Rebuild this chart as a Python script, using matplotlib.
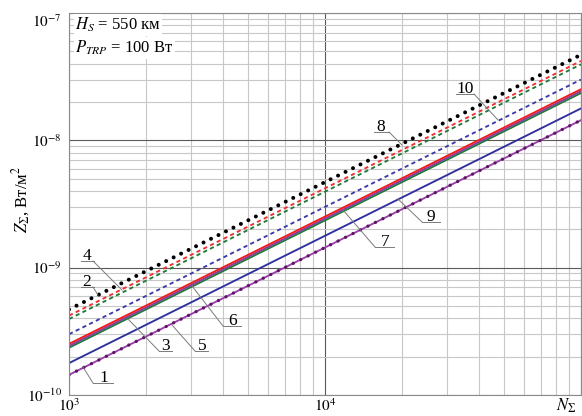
import matplotlib
matplotlib.use('Agg')
import matplotlib.pyplot as plt

plt.rcParams['font.family'] = ['Liberation Serif', 'DejaVu Serif']
plt.rcParams['mathtext.fontset'] = 'stix'
plt.rcParams['lines.scale_dashes'] = False

# values at N = 1e3 and N = 1e5
n_sum = [1e3, 1e5]
z_black_dot = [4.7e-10, 4.7e-8]
z_red_dash = [4.2e-10, 4.2e-8]
z_green_dash = [3.95e-10, 3.95e-8]
z_blue_dash = [3.0e-10, 3.0e-8]
z_red = [2.52e-10, 2.52e-8]
z_purple = [2.43e-10, 2.43e-8]
z_green = [2.35e-10, 2.35e-8]
z_blue = [1.78e-10, 1.78e-8]
z_purple_mk = [1.44e-10, 1.44e-8]

curve_labels = ['4', '2', '3', '5', '1', '6', '7', '9', '8', '10']

fig = plt.figure(figsize=(5.82, 4.16), dpi=100)
ax = fig.add_axes([69/582, 21/416, 512/582, 382/416])
ax.set_xscale('log')
ax.set_yscale('log')
ax.set_xlim(1e3, 1e5)
ax.set_ylim(1e-10, 1e-7)

ax.grid(which='major', color='#5a5a5a', lw=0.8)
ax.grid(which='minor', color='#c8c8c8', lw=0.8)
ax.set_axisbelow(True)
for s in ax.spines.values():
    s.set_color('#8a8a8a')
    s.set_linewidth(0.8)

ax.tick_params(which='both', length=0, labelsize=11)
ax.tick_params(axis='y', pad=5)
ax.tick_params(axis='x', pad=1.5)
ax.set_xticks([1e3, 1e4, 1e5], [r'$10^3$', r'$10^4$', ''])
ax.set_yticks([1e-10, 1e-9, 1e-8, 1e-7],
              [r'$10^{-10}$', r'$10^{-9}$', r'$10^{-8}$', r'$10^{-7}$'])
ax.get_yticklabels()[-1].set_va('top')

# solid lines
ax.plot(n_sum, z_blue, color='#2f2f9e', lw=1.35)
ax.plot(n_sum, z_green, color='#1f7a3c', lw=1.35)
ax.plot(n_sum, z_purple, color='#8a3a9a', lw=1.35)
ax.plot(n_sum, z_red, color='#f01c1c', lw=1.35)
ax.plot(n_sum, z_purple_mk, color='#9a3fae', lw=1.35)
ax.plot(n_sum, z_purple_mk, color='#5e1560', lw=2.4,
        linestyle=(0, (0.01, 6.0)), dash_capstyle='round')

# dashed lines
dash = (0, (3.0, 2.4))
ax.plot(n_sum, z_blue_dash, color='#3a3aa8', lw=1.35, linestyle=dash)
ax.plot(n_sum, z_green_dash, color='#1f7a3c', lw=1.35, linestyle=dash)
ax.plot(n_sum, z_red_dash, color='#f03030', lw=1.35, linestyle=dash)

# dotted black
ax.plot(n_sum, z_black_dot, color='black', lw=2.9,
        linestyle=(0, (0.01, 6.0)), dash_capstyle='round')


def fx(px):
    return (px - 69) / 512


def fy(py):
    return (395 - py) / 382


# text x, underline x0, x1, y, leader start x, leader end x, y (pixels)
marks = [
    (87, 81, 94, 261, 93, 122, 290),
    (87, 81, 94, 287, 93, 98, 295),
    (166, 159, 172, 351, 159, 128, 319),
    (202, 195, 208, 351, 195, 172, 325),
    (104, 93, 113, 383, 93, 83, 367),
    (233, 223, 241, 326, 223, 192, 286),
    (385, 375, 394, 247, 375, 343, 210),
    (431, 422, 440, 222, 422, 398, 199),
    (381, 374, 389, 132, 389, 402, 145),
    (465, 456, 474, 94, 474, 498, 120),
]
for lab, (tx, u0, u1, uy, lx, ex, ey) in zip(curve_labels, marks):
    ax.plot([fx(u0), fx(u1)], [fy(uy), fy(uy)], color='#7a7a7a', lw=0.7,
            transform=ax.transAxes)
    ax.plot([fx(lx), fx(ex)], [fy(uy), fy(ey)], color='#7a7a7a', lw=0.7,
            transform=ax.transAxes)
    ax.text(fx(tx), fy(uy - 1), lab, ha='center', va='baseline',
            fontsize=12.5, transform=ax.transAxes)

box = dict(facecolor='white', edgecolor='none', pad=1)
ax.text(fx(75), fy(25), r'$H_S$ = 550 км', ha='left', va='center',
        fontsize=12, transform=ax.transAxes, bbox=box)
ax.text(fx(75), fy(48), r'$P_{TRP}$ = 100 Вт', ha='left', va='center',
        fontsize=12, transform=ax.transAxes, bbox=box)

fig.text(21/582, 1 - 199/416, r'$Z_\Sigma$, Вт/м$^2$', rotation=90,
         ha='center', va='center', fontsize=12)
fig.text(566/582, 1 - 406/416, r'$N_\Sigma$', ha='center', va='center',
         fontsize=12)

fig.savefig('out.png', dpi=100)
